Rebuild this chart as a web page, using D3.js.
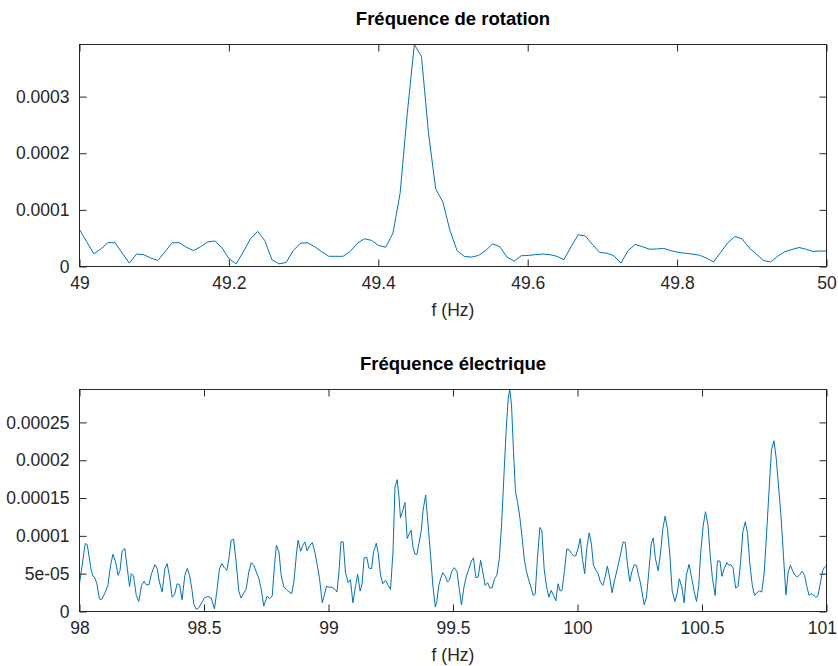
<!DOCTYPE html>
<html>
<head>
<meta charset="utf-8">
<script src="https://cdn.jsdelivr.net/npm/d3@7"></script>
<style>
  html, body { margin: 0; padding: 0; background: #fff; }
  svg { display: block; }
  text { font-family: "Liberation Sans", Arial, Helvetica, sans-serif; }
</style>
</head>
<body>
<svg id="chart" width="838" height="666"></svg>
<script>
// ---------------- DATA ----------------
const AMP_UNIT = 1e-5;

// Plot 1: rotation frequency spectrum (uniform bins)
const rotTitle = "Fréquence de rotation";
const rotStart = 49;
const rotStep = 0.009537;
const rotAmp = [
  6.53, 4.4, 2.24, 3.1, 4.2, 4.2, 2.35, 0.6, 2.2, 2.1,
  1.5, 1.06, 2.6, 4.2, 4.2, 3.4, 2.8, 3.5, 4.35, 4.5,
  3.3, 1.35, 0.47, 2.6, 4.9, 6.2, 4.6, 1.2, 0.47, 0.7,
  2.8, 4.1, 4.2, 3.5, 2.6, 1.8, 1.8, 1.8, 2.65, 4.1,
  4.9, 4.6, 3.7, 3.4, 5.9, 12.9, 26.9, 39.2, 37.1, 23.4,
  13.7, 11.4, 6.35, 2.8, 1.8, 1.65, 1.95, 2.8, 4.0, 3.5,
  1.65, 0.94, 1.9, 1.95, 2.1, 2.2, 2.1, 1.8, 1.2, 3.5,
  5.6, 5.4, 3.9, 2.5, 2.35, 1.9, 0.6, 2.8, 3.9, 3.5,
  3.05, 3.1, 3.2, 2.8, 2.5, 2.35, 2.2, 2.0, 1.5, 0.8,
  2.5, 4.2, 5.3, 4.9, 3.3, 2.2, 1.05, 0.8, 1.8, 2.6,
  3.0, 3.35, 3.05, 2.65, 2.75, 2.7
];
const rotXDomain = [49, 50];
const rotYMax = 3.92e-4;
const rotXTicks = [49, 49.2, 49.4, 49.6, 49.8, 50];
const rotXTickLabels = ["49", "49.2", "49.4", "49.6", "49.8", "50"];
const rotYTicks = [0, 1e-4, 2e-4, 3e-4];
const rotYTickLabels = ["0", "0.0001", "0.0002", "0.0003"];

// Plot 2: electrical frequency spectrum
const elecTitle = "Fréquence électrique";
const elecFreq = [
  98.000, 98.023, 98.031, 98.047, 98.054, 98.060, 98.070, 98.080, 98.088, 98.101,
  98.114, 98.125, 98.134, 98.145, 98.155, 98.163, 98.171, 98.182, 98.192, 98.201,
  98.208, 98.217, 98.228, 98.238, 98.249, 98.259, 98.268, 98.279, 98.289, 98.303,
  98.312, 98.321, 98.332, 98.343, 98.352, 98.362, 98.372, 98.382, 98.392, 98.402,
  98.412, 98.423, 98.433, 98.442, 98.451, 98.459, 98.469, 98.479, 98.490, 98.502,
  98.516, 98.529, 98.542, 98.553, 98.562, 98.572, 98.582, 98.592, 98.600, 98.609,
  98.619, 98.629, 98.640, 98.649, 98.660, 98.669, 98.680, 98.690, 98.700, 98.710,
  98.720, 98.730, 98.740, 98.754, 98.763, 98.774, 98.783, 98.791, 98.801, 98.810,
  98.821, 98.834, 98.852, 98.861, 98.872, 98.878, 98.888, 98.897, 98.905, 98.914,
  98.925, 98.935, 98.945, 98.955, 98.964, 98.975, 98.983, 98.992, 99.001, 99.015,
  99.026, 99.034, 99.042, 99.050, 99.059, 99.068, 99.079, 99.088, 99.098, 99.109,
  99.117, 99.127, 99.135, 99.143, 99.154, 99.162, 99.173, 99.181, 99.192, 99.200,
  99.209, 99.218, 99.229, 99.240, 99.249, 99.259, 99.267, 99.276, 99.283, 99.289,
  99.299, 99.307, 99.316, 99.323, 99.332, 99.339, 99.347, 99.355, 99.363, 99.372,
  99.380, 99.390, 99.400, 99.410, 99.419, 99.429, 99.435, 99.443, 99.451, 99.459,
  99.469, 99.478, 99.486, 99.494, 99.505, 99.516, 99.525, 99.534, 99.544, 99.554,
  99.564, 99.574, 99.582, 99.592, 99.601, 99.611, 99.620, 99.629, 99.639, 99.648,
  99.657, 99.667, 99.676, 99.686, 99.695, 99.706, 99.714, 99.722, 99.728, 99.735,
  99.743, 99.751, 99.759, 99.769, 99.778, 99.786, 99.795, 99.802, 99.813, 99.822,
  99.830, 99.839, 99.849, 99.857, 99.866, 99.876, 99.885, 99.894, 99.904, 99.913,
  99.922, 99.930, 99.938, 99.948, 99.957, 99.967, 99.976, 99.985, 99.993, 100.003,
  100.011, 100.020, 100.029, 100.037, 100.047, 100.056, 100.064, 100.074, 100.083, 100.092,
  100.102, 100.111, 100.120, 100.130, 100.139, 100.147, 100.157, 100.166, 100.175, 100.183,
  100.192, 100.201, 100.210, 100.218, 100.228, 100.237, 100.245, 100.252, 100.259, 100.268,
  100.277, 100.287, 100.296, 100.304, 100.313, 100.324, 100.333, 100.343, 100.352, 100.361,
  100.371, 100.380, 100.391, 100.400, 100.409, 100.419, 100.428, 100.437, 100.448, 100.458,
  100.469, 100.478, 100.487, 100.495, 100.505, 100.514, 100.524, 100.533, 100.542, 100.553,
  100.562, 100.572, 100.580, 100.589, 100.600, 100.608, 100.616, 100.625, 100.635, 100.645,
  100.655, 100.664, 100.674, 100.683, 100.692, 100.702, 100.711, 100.721, 100.731, 100.740,
  100.750, 100.759, 100.769, 100.779, 100.789, 100.798, 100.807, 100.817, 100.827, 100.837,
  100.846, 100.855, 100.865, 100.874, 100.883, 100.892, 100.902, 100.912, 100.920, 100.930,
  100.938, 100.947, 100.957, 100.966, 100.976, 100.985, 100.992, 101.000
];
const elecAmp = [
  3.67, 8.98, 8.85, 5.44, 4.69, 4.56, 3.67, 1.68, 1.55, 2.35,
  3.45, 6.11, 7.57, 6.55, 4.78, 5.44, 8.01, 8.32, 5.66, 3.32,
  5.0, 4.69, 2.12, 1.33, 3.45, 3.98, 3.54, 3.54, 5.0, 6.19,
  5.66, 3.89, 2.57, 5.66, 6.33, 4.56, 1.90, 2.26, 3.67, 3.54,
  1.55, 4.78, 5.71, 4.78, 3.01, 1.02, 0.27, 0.49, 1.11, 1.81,
  1.99, 1.77, 0.35, 3.01, 5.66, 6.33, 5.75, 5.44, 6.99, 9.42,
  9.56, 6.55, 2.65, 1.77, 2.48, 2.92, 5.22, 6.46, 6.11, 5.22,
  4.42, 2.92, 0.71, 2.04, 1.68, 2.04, 6.11, 8.76, 7.88, 4.78,
  3.23, 2.79, 2.35, 3.89, 7.88, 9.42, 7.96, 8.76, 9.20, 8.01,
  8.76, 9.12, 7.88, 6.11, 4.34, 1.15, 2.12, 3.32, 3.23, 3.19,
  2.92, 2.57, 5.22, 9.20, 9.20, 5.22, 3.81, 4.20, 1.15, 3.45,
  4.91, 2.70, 3.67, 7.08, 7.17, 5.75, 5.66, 7.88, 9.03, 7.65,
  4.78, 3.67, 4.12, 3.45, 2.92, 7.88, 16.50, 17.43, 15.18, 12.39,
  13.41, 14.42, 9.65, 10.18, 10.75, 8.54, 7.61, 7.52, 8.98, 10.53,
  13.41, 15.40, 11.42, 7.43, 3.45, 0.58, 1.33, 3.45, 4.42, 5.13,
  4.65, 3.89, 4.16, 5.22, 5.80, 5.31, 3.01, 0.88, 3.23, 4.69,
  5.66, 6.68, 7.08, 4.47, 4.56, 6.77, 5.13, 3.45, 3.81, 3.10,
  3.14, 4.34, 4.78, 6.99, 11.42, 18.94, 24.25, 28.23, 29.35, 27.35,
  21.15, 15.84, 14.51, 12.30, 9.65, 6.99, 5.31, 4.42, 3.23, 2.12,
  2.30, 6.99, 11.11, 10.66, 5.66, 3.23, 1.90, 2.79, 2.12, 1.42,
  3.67, 2.70, 2.83, 5.53, 8.27, 8.14, 7.65, 7.35, 7.35, 8.41,
  9.65, 6.90, 5.0, 8.32, 10.40, 8.89, 6.11, 5.44, 5.0, 3.89,
  3.45, 4.56, 6.02, 4.34, 2.48, 3.89, 5.22, 6.55, 7.88, 9.20,
  9.12, 6.11, 3.98, 5.22, 6.19, 6.11, 4.78, 3.89, 2.57, 0.88,
  1.90, 5.44, 8.98, 9.73, 6.99, 5.40, 7.65, 10.97, 12.61, 10.97,
  7.43, 2.79, 1.33, 2.35, 4.34, 3.23, 1.15, 4.78, 6.24, 4.56,
  2.57, 1.33, 3.45, 7.88, 11.42, 13.19, 11.42, 7.43, 4.34, 2.12,
  6.68, 6.68, 4.65, 5.66, 6.46, 6.11, 6.19, 5.75, 3.10, 3.32,
  6.55, 10.53, 11.86, 10.31, 6.33, 3.45, 2.12, 2.48, 2.74, 2.57,
  5.22, 10.09, 15.84, 21.37, 22.57, 20.27, 16.73, 12.74, 7.43, 2.21,
  5.22, 6.11, 5.31, 4.78, 4.56, 4.87, 5.31, 4.78, 3.45, 2.12,
  2.35, 2.21, 1.86, 2.12, 3.89, 5.44, 5.88, 6.1
];
const elecXDomain = [98, 101];
const elecYMax = 2.935e-4;
const elecXTicks = [98, 98.5, 99, 99.5, 100, 100.5, 101];
const elecXTickLabels = ["98", "98.5", "99", "99.5", "100", "100.5", "101"];
const elecYTicks = [0, 5e-5, 1e-4, 1.5e-4, 2e-4, 2.5e-4];
const elecYTickLabels = ["0", "5e-05", "0.0001", "0.00015", "0.0002", "0.00025"];

const xLabel = "f (Hz)";

// ---------------- DRAWING ----------------
const svg = d3.select("#chart");
const W = 838;
const LEFT = 79.5, RIGHT = 826.5;
const AXIS_COLOR = "#262626";
const LINE_COLOR = "#0072BD";
const TICK_LEN = 7;
const FONT_SIZE = 17.5;
const TITLE_SIZE = 18.5;

function drawPanel(cfg) {
  const x = d3.scaleLinear().domain(cfg.xDomain).range([LEFT, RIGHT]);
  const y = d3.scaleLinear().domain([0, cfg.yMax]).range([cfg.bottom, cfg.top]);
  const g = svg.append("g");

  const clipId = "clip" + cfg.id;
  svg.append("clipPath").attr("id", clipId)
    .append("rect")
    .attr("x", LEFT).attr("y", cfg.top)
    .attr("width", RIGHT - LEFT).attr("height", cfg.bottom - cfg.top);

  const line = d3.line().x(d => x(d[0])).y(d => y(d[1]));
  g.append("path")
    .datum(cfg.points)
    .attr("clip-path", `url(#${clipId})`)
    .attr("fill", "none")
    .attr("stroke", LINE_COLOR)
    .attr("stroke-width", 1)
    .attr("stroke-linejoin", "round")
    .attr("d", line);

  const xFmt = v => cfg.xTickLabels[cfg.xTicks.indexOf(v)];
  const yFmt = v => cfg.yTickLabels[cfg.yTicks.indexOf(v)];

  const axB = g.append("g").attr("transform", `translate(0,${cfg.bottom})`)
    .call(d3.axisBottom(x).tickValues(cfg.xTicks).tickFormat(xFmt)
      .tickSize(-TICK_LEN).tickSizeOuter(0).tickPadding(10));
  const axT = g.append("g").attr("transform", `translate(0,${cfg.top})`)
    .call(d3.axisTop(x).tickValues(cfg.xTicks).tickFormat("")
      .tickSize(-TICK_LEN).tickSizeOuter(0));
  const axL = g.append("g").attr("transform", `translate(${LEFT},0)`)
    .call(d3.axisLeft(y).tickValues(cfg.yTicks).tickFormat(yFmt)
      .tickSize(-TICK_LEN).tickSizeOuter(0).tickPadding(10));
  const axR = g.append("g").attr("transform", `translate(${RIGHT},0)`)
    .call(d3.axisRight(y).tickValues(cfg.yTicks).tickFormat("")
      .tickSize(-TICK_LEN).tickSizeOuter(0));

  [axB, axT, axL, axR].forEach(a => {
    a.select(".domain").remove();
    a.selectAll(".tick line").attr("stroke", AXIS_COLOR).attr("stroke-width", 1);
    a.selectAll(".tick text")
      .attr("fill", AXIS_COLOR)
      .style("font-size", FONT_SIZE + "px")
      .style("font-family", '"Liberation Sans", Arial, sans-serif');
  });
  axB.selectAll(".tick text").attr("dy", "0.71em");

  // keep the last tick label inside the picture
  axB.selectAll(".tick").each(function () {
    const t = d3.select(this);
    const txt = t.select("text").node();
    if (!txt) return;
    const bb = txt.getBBox();
    const m = (t.attr("transform") || "").match(/translate\(([-\d.]+)/);
    const tx = m ? +m[1] : 0;
    const right = tx + bb.x + bb.width;
    if (right > W - 1) {
      d3.select(txt).attr("x", (W - 1) - right);
    }
  });

  g.append("rect")
    .attr("x", LEFT).attr("y", cfg.top)
    .attr("width", RIGHT - LEFT).attr("height", cfg.bottom - cfg.top)
    .attr("fill", "none").attr("stroke", AXIS_COLOR).attr("stroke-width", 1);

  g.append("text")
    .attr("x", (LEFT + RIGHT) / 2).attr("y", cfg.top - 20)
    .attr("text-anchor", "middle")
    .attr("fill", "#000")
    .style("font-size", TITLE_SIZE + "px")
    .style("font-weight", "bold")
    .text(cfg.title);

  g.append("text")
    .attr("x", (LEFT + RIGHT) / 2).attr("y", cfg.bottom + 49)
    .attr("text-anchor", "middle")
    .attr("fill", AXIS_COLOR)
    .style("font-size", FONT_SIZE + "px")
    .text(xLabel);
}

drawPanel({
  id: 1, title: rotTitle, top: 44.5, bottom: 266.5,
  xDomain: rotXDomain, yMax: rotYMax,
  xTicks: rotXTicks, xTickLabels: rotXTickLabels,
  yTicks: rotYTicks, yTickLabels: rotYTickLabels,
  points: rotAmp.map((v, i) => [rotStart + i * rotStep, v * AMP_UNIT])
});

drawPanel({
  id: 2, title: elecTitle, top: 389.5, bottom: 611.5,
  xDomain: elecXDomain, yMax: elecYMax,
  xTicks: elecXTicks, xTickLabels: elecXTickLabels,
  yTicks: elecYTicks, yTickLabels: elecYTickLabels,
  points: elecFreq.map((f, i) => [f, elecAmp[i] * AMP_UNIT])
});
</script>
</body>
</html>
